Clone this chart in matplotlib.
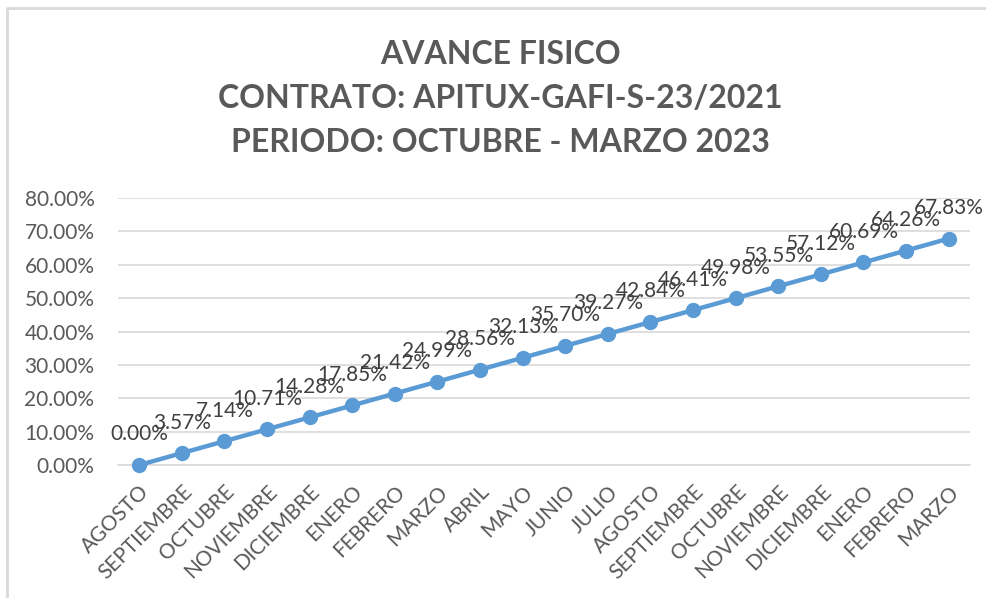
import matplotlib.pyplot as plt
from matplotlib.lines import Line2D
from matplotlib.ticker import FuncFormatter

plt.rcParams['font.family'] = ['Lato', 'DejaVu Sans']

meses = ['AGOSTO', 'SEPTIEMBRE', 'OCTUBRE', 'NOVIEMBRE', 'DICIEMBRE', 'ENERO',
         'FEBRERO', 'MARZO', 'ABRIL', 'MAYO', 'JUNIO', 'JULIO', 'AGOSTO',
         'SEPTIEMBRE', 'OCTUBRE', 'NOVIEMBRE', 'DICIEMBRE', 'ENERO', 'FEBRERO', 'MARZO']
avance = [0.0, 3.57, 7.14, 10.71, 14.28, 17.85, 21.42, 24.99, 28.56, 32.13,
          35.70, 39.27, 42.84, 46.41, 49.98, 53.55, 57.12, 60.69, 64.26, 67.83]
titulo = ['AVANCE FISICO', 'CONTRATO: APITUX-GAFI-S-23/2021', 'PERIODO: OCTUBRE - MARZO 2023']

W, H = 987, 598
fig = plt.figure(figsize=(W / 100, H / 100), dpi=100)
ax = fig.add_axes([118 / W, (H - 465) / H, 852 / W, (465 - 198) / H])

azul = '#5B9BD5'
gris = '#595959'
x = list(range(len(meses)))
y = [v / 100 for v in avance]
ax.plot(x, y, color=azul, lw=3.2, marker='o', ms=10, zorder=3, clip_on=False)

for xi, yi, v in zip(x, y, avance):
    ax.annotate(f'{v:.2f}%', (xi, yi), xytext=(0, 22), textcoords='offset points',
                ha='center', va='center', fontsize=15, color='#404040')

ax.set_xlim(-0.5, len(meses) - 0.5)
ax.set_ylim(0, 0.8)
ax.set_yticks([i / 10 for i in range(9)])
ax.yaxis.set_major_formatter(FuncFormatter(lambda v, p: f'{v * 100:.2f}%'))
ax.set_xticks(x)
ax.set_xticklabels(meses, rotation=45, ha='right', rotation_mode='anchor')
ax.tick_params(axis='both', length=0, labelsize=15, labelcolor=gris)
ax.tick_params(axis='y', pad=17)
ax.tick_params(axis='x', pad=12)
ax.grid(axis='y', color='#D9D9D9', lw=1.2)
ax.set_axisbelow(True)
for s in ['top', 'right', 'left']:
    ax.spines[s].set_visible(False)
ax.spines['bottom'].set_color('#D9D9D9')
ax.spines['bottom'].set_linewidth(1.2)

for linea, yb in zip(titulo, [64, 108, 152]):
    fig.text(500 / W, 1 - yb / H, linea, ha='center', va='baseline',
             fontsize=23, fontweight='bold', color=gris)

fig.add_artist(Line2D([7 / W, 7 / W, 1], [0, 1 - 8 / H, 1 - 8 / H],
                      color='#D9D9D9', lw=2, transform=fig.transFigure))

fig.savefig('out.png', dpi=100)
